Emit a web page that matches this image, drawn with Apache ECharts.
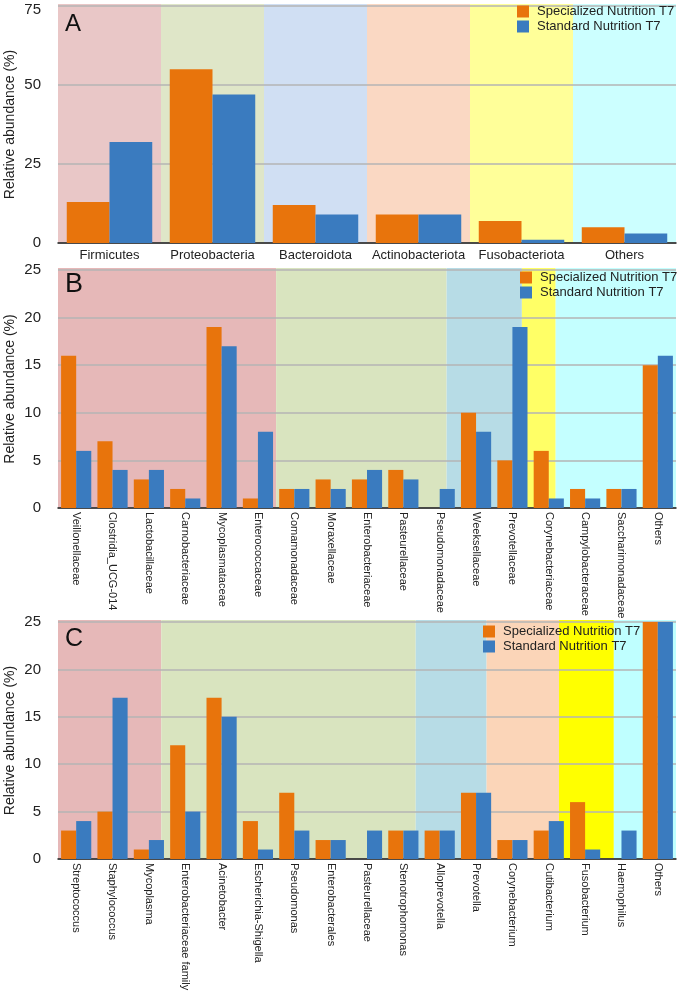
<!DOCTYPE html>
<html>
<head>
<meta charset="utf-8">
<script src="https://cdn.jsdelivr.net/npm/echarts@6/dist/echarts.min.js"></script>
<style>
html,body{margin:0;padding:0;background:#fff;}
#chart{width:679px;height:992px;}
</style>
</head>
<body>
<div id="chart"></div>
<script>
// ---------- DATA ----------
const seriesNames = ['Specialized Nutrition T7', 'Standard Nutrition T7'];

const catsA = ['Firmicutes', 'Proteobacteria', 'Bacteroidota', 'Actinobacteriota', 'Fusobacteriota', 'Others'];
const specA = [13, 55, 12, 9, 7, 5];
const stdA  = [32, 47, 9, 9, 1, 3];

const catsB = ['Veillonellaceae', 'Clostridia_UCG-014', 'Lactobacillaceae', 'Carnobacteriaceae', 'Mycoplasmataceae',
  'Enterococcaceae', 'Comamonadaceae', 'Moraxellaceae', 'Enterobacteriaceae', 'Pasteurellaceae', 'Pseudomonadaceae',
  'Weeksellaceae', 'Prevotellaceae', 'Corynebacteriaceae', 'Campylobacteraceae', 'Saccharimonadaceae', 'Others'];
const specB = [16, 7, 3, 2, 19, 1, 2, 3, 3, 4, 0, 10, 5, 6, 2, 2, 15];
const stdB  = [6, 4, 4, 1, 17, 8, 2, 2, 4, 3, 2, 8, 19, 1, 1, 2, 16];

const catsC = ['Streptococcus', 'Staphylococcus', 'Mycoplasma', 'Enterobacteriaceae family', 'Acinetobacter',
  'Escherichia-Shigella', 'Pseudomonas', 'Enterobacterales', 'Pasteurellaceae', 'Stenotrophomonas', 'Alloprevotella',
  'Prevotella', 'Corynebacterium', 'Cutibacterium', 'Fusobacterium', 'Haemophilus', 'Others'];
const specC = [3, 5, 1, 12, 17, 4, 7, 2, 0, 3, 3, 7, 2, 3, 6, 0, 25];
const stdC  = [4, 17, 2, 5, 15, 1, 3, 2, 3, 3, 3, 7, 2, 4, 1, 3, 25];

const yTicksA = {max: 75, interval: 25};
const yTicksBC = {max: 25, interval: 5};

// phylum background bands (in category units)
const bandsA = [[0, 1, '#e9c7c7'], [1, 2, '#dfe6c8'], [2, 3, '#d0dff3'], [3, 4, '#fad8c3'], [4, 5, '#ffff99'], [5, 6, '#ccffff']];
const bandsB = [[0, 6, '#e6b8b8'], [6, 10.69, '#d9e4bf'], [10.69, 12.76, '#b7dce6'], [12.76, 13.69, '#ffff66'], [13.69, 17, '#c4ffff']];
const bandsC = [[0, 2.84, '#e6b8b8'], [2.84, 9.84, '#d9e4bf'], [9.84, 11.79, '#b7dce6'], [11.79, 13.78, '#fbd5b8'], [13.78, 15.29, '#ffff00'], [15.29, 17, '#bfffff']];

// ---------- CHART ----------
const ORANGE = '#e8740c';
const BLUE = '#3a7bbf';
const FONT = 'Liberation Sans, Arial, sans-serif';

const panels = [
  {cats: catsA, spec: specA, std: stdA, bands: bandsA, y: yTicksA, top: 6, bottom: 749, letter: 'A', letterPos: [65, 12], letterSize: 24,
   legendPos: [517, 5], rotate: 0, labelSize: 13, gapCat: '17%', padTop: true},
  {cats: catsB, spec: specB, std: stdB, bands: bandsB, y: yTicksBC, top: 270, bottom: 484, letter: 'B', letterPos: [65, 271], letterSize: 27,
   legendPos: [520, 271], rotate: -90, labelSize: 11, gapCat: '17%', padTop: false},
  {cats: catsC, spec: specC, std: stdC, bands: bandsC, y: yTicksBC, top: 622, bottom: 133, letter: 'C', letterPos: [65, 627], letterSize: 25,
   legendPos: [483, 625], rotate: -90, labelSize: 11, gapCat: '17%', padTop: false}
];

const grid = [], xAxis = [], yAxis = [], series = [], legend = [], graphic = [];
panels.forEach((p, i) => {
  grid.push({left: 58, right: 3, top: p.top, bottom: p.bottom, containLabel: false, outerBoundsMode: 'none'});
  xAxis.push({
    type: 'category', gridIndex: i, data: p.cats,
    axisTick: {show: false},
    axisLine: {lineStyle: {color: '#222', width: 1.5}},
    axisLabel: {rotate: p.rotate, fontSize: p.labelSize, color: '#222', fontFamily: FONT, margin: p.rotate ? 4 : 6, interval: 0}
  });
  xAxis.push({type: 'value', gridIndex: i, min: 0, max: p.cats.length, show: false});
  const ymax = p.y.max;
  yAxis.push({
    type: 'value', gridIndex: i, min: 0, max: ymax, interval: p.y.interval,
    name: 'Relative abundance (%)', nameLocation: 'middle', nameGap: 41, nameMoveOverlap: false,
    nameTextStyle: {fontSize: 14, color: '#222', fontFamily: FONT},
    axisLine: {show: false}, axisTick: {show: false},
    axisLabel: {
      fontSize: 15, color: '#222', fontFamily: FONT, margin: 17,
      formatter: v => (p.padTop && v === ymax) ? '{t|' + v + '}' : String(v),
      rich: {t: {fontSize: 15, color: '#222', fontFamily: FONT, padding: [8, 0, 0, 0]}}
    },
    splitLine: {lineStyle: {color: '#b4b4b4', width: 1.5}}
  });
  series.push({
    type: 'custom', xAxisIndex: i * 2 + 1, yAxisIndex: i, z: -1, silent: true,
    encode: {x: [0, 1]},
    data: p.bands.map(b => ({value: [b[0], b[1]], itemStyle: {color: b[2]}})),
    renderItem: function (params, api) {
      const s = api.coord([api.value(0), ymax]);
      const e = api.coord([api.value(1), 0]);
      return {type: 'rect', shape: {x: s[0], y: s[1] - 2, width: e[0] - s[0], height: e[1] - s[1] + 2},
        style: {fill: api.visual('color')}};
    }
  });
  series.push({
    type: 'bar', name: seriesNames[0], xAxisIndex: i * 2, yAxisIndex: i, data: p.spec,
    barGap: 0, barCategoryGap: p.gapCat, itemStyle: {color: ORANGE}
  });
  series.push({
    type: 'bar', name: seriesNames[1], xAxisIndex: i * 2, yAxisIndex: i, data: p.std,
    barGap: 0, barCategoryGap: p.gapCat, itemStyle: {color: BLUE}
  });
  legend.push({
    data: seriesNames, orient: 'vertical', left: p.legendPos[0], top: p.legendPos[1], padding: 0,
    icon: 'rect', itemWidth: 12, itemHeight: 12, itemGap: 2, selectedMode: false,
    textStyle: {fontSize: 13, color: '#222', fontFamily: FONT, padding: [0, 0, 0, 3]}
  });
  graphic.push({
    type: 'text', left: p.letterPos[0], top: p.letterPos[1],
    style: {text: p.letter, fontSize: p.letterSize, fill: '#111', fontFamily: FONT}
  });
});

const chart = echarts.init(document.getElementById('chart'), null, {renderer: 'canvas'});
chart.setOption({
  animation: false,
  backgroundColor: '#fff',
  color: [ORANGE, BLUE],
  grid, xAxis, yAxis, series, legend, graphic
});
</script>
</body>
</html>
